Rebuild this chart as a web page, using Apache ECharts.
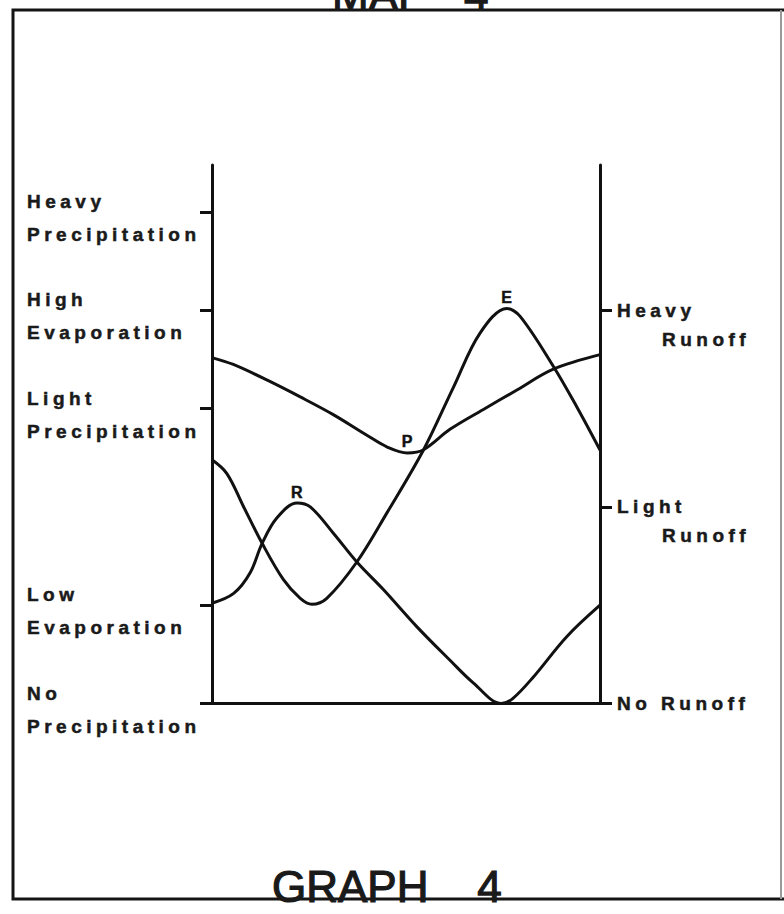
<!DOCTYPE html>
<html>
<head>
<meta charset="utf-8">
<title>Graph 4</title>
<script src="https://cdn.jsdelivr.net/npm/echarts@6/dist/echarts.min.js"></script>
<style>
html, body { margin: 0; padding: 0; background: #fff; }
#container { width: 784px; height: 914px; }
/* the lettering on the original is spaced out and heavy */
#container text[style*="bold"] { letter-spacing: 4.5px; stroke: #1a1a1a; stroke-width: 0.5px; }
</style>
</head>
<body>
<div id="container"></div>
<script>
// x runs across the graph, 0 = left axis, 12 = right axis
var precipX = [0, 0.66, 1.71, 2.73, 3.75, 4.79, 5.42, 6.04, 6.53, 7.36, 8.38, 9.43, 10.54, 12];
var precipY = [3.52, 3.45, 3.29, 3.12, 2.94, 2.73, 2.61, 2.55, 2.58, 2.79, 2.99, 3.19, 3.40, 3.55];

var evapX = [0, 0.46, 0.98, 1.55, 2.21, 2.73, 3.09, 3.55, 4.48, 5.41, 6.54, 7.47, 8.29, 9.12, 9.53, 10.56, 11.28, 12];
var evapY = [2.48, 2.34, 2.00, 1.63, 1.26, 1.07, 1.01, 1.07, 1.44, 1.94, 2.58, 3.22, 3.77, 4.02, 3.94, 3.43, 3.02, 2.58];

var runoffX = [0, 0.67, 1.18, 1.55, 2.01, 2.63, 3.04, 3.76, 4.48, 5.30, 6.34, 7.36, 8.08, 8.95, 9.30, 9.94, 10.97, 12];
var runoffY = [1.02, 1.12, 1.33, 1.63, 1.89, 2.04, 2.00, 1.73, 1.44, 1.16, 0.78, 0.44, 0.21, 0.00, 0.05, 0.27, 0.68, 1.00];

// point of each curve that carries its letter
var precipMark = 7;   // P at the low point
var evapMark = 13;    // E at the peak
var runoffMark = 5;   // R at the peak

// tick labels
var leftTicks = [0, 1, 3, 4, 5];
var leftLabels = ['No\nPrecipitation', 'Low\nEvaporation', 'Light\nPrecipitation', 'High\nEvaporation', 'Heavy\nPrecipitation'];
var rightTicks = [0, 2, 4];
var rightLabels = ['No Runoff', 'Light\nRunoff', 'Heavy\nRunoff'];

var xMax = 12;
var yMax = 5.48;

var page = {
    init: function () {
        this.chart = echarts.init(document.getElementById('container'), null, { renderer: 'svg' });
        this.generateCharts();
    },
    //数据点 + 字母
    toPairs: function (xs, ys, markIdx, letter) {
        var out = [];
        for (var i = 0; i < xs.length; i++) {
            var item = { value: [xs[i], ys[i]] };
            if (i === markIdx) {
                item.label = { show: true, formatter: letter };
            }
            out.push(item);
        }
        return out;
    },
    curve: function (name, data) {
        return {
            name: name,
            type: 'line',
            data: data,
            smooth: 0.35,
            showSymbol: true,
            symbol: 'circle',
            symbolSize: 0,
            silent: true,
            lineStyle: { color: '#111', width: 3 },
            itemStyle: { color: '#111' },
            label: {
                show: false,
                position: 'top',
                distance: 3,
                offset: [2, 0],
                fontSize: 16,
                fontWeight: 'bold',
                fontFamily: 'Liberation Sans',
                color: '#111'
            }
        };
    },
    generateCharts: function () {
        var axisLine = { show: true, lineStyle: { color: '#111', width: 3 } };
        var labelFont = { fontSize: 19, fontWeight: 'bold', fontFamily: 'Liberation Sans', color: '#1a1a1a' };

        var option = {
            animation: false,
            backgroundColor: '#fff',
            grid: { left: 212, right: 184, top: 165, bottom: 210.5, outerBoundsMode: 'none', containLabel: false },
            xAxis: {
                type: 'value', min: 0, max: xMax,
                axisLine: axisLine,
                axisTick: { show: false },
                axisLabel: { show: false },
                splitLine: { show: false }
            },
            yAxis: [
                {
                    type: 'value', position: 'left', min: 0, max: yMax,
                    axisLine: axisLine,
                    axisTick: { show: true, customValues: leftTicks, length: 12, lineStyle: { color: '#111', width: 3 } },
                    axisLabel: Object.assign({
                        customValues: leftTicks,
                        align: 'left',
                        margin: 185,
                        padding: [12, 0, 0, 0],
                        formatter: function (v) {
                            var t = leftLabels[leftTicks.indexOf(v)].split('\n');
                            return '{a|' + t[0] + '}\n{a|' + t[1] + '}';
                        },
                        rich: {
                            a: Object.assign({ lineHeight: 33 }, labelFont)
                        }
                    }, labelFont),
                    splitLine: { show: false }
                },
                {
                    type: 'value', position: 'right', min: 0, max: yMax,
                    axisLine: axisLine,
                    axisTick: { show: true, customValues: rightTicks, length: 12, lineStyle: { color: '#111', width: 3 } },
                    axisLabel: Object.assign({
                        customValues: rightTicks,
                        align: 'left',
                        margin: 17,
                        padding: [29, 0, 0, 0],
                        formatter: function (v) {
                            var t = rightLabels[rightTicks.indexOf(v)].split('\n');
                            return '{a|' + t[0] + '}\n{b|' + (t[1] || ' ') + '}';
                        },
                        rich: {
                            a: Object.assign({ lineHeight: 29 }, labelFont),
                            b: Object.assign({ lineHeight: 29, padding: [0, 0, 0, 45] }, labelFont)
                        }
                    }, labelFont),
                    splitLine: { show: false }
                }
            ],
            graphic: [
                // page frame
                {
                    type: 'polyline', silent: true,
                    shape: { points: [[784, 10], [13, 10], [13, 899], [784, 899]] },
                    style: { stroke: '#151515', lineWidth: 3, fill: null }
                },
                {
                    type: 'line', silent: true,
                    shape: { x1: 781, y1: 10, x2: 781, y2: 899 },
                    style: { stroke: '#999', lineWidth: 2 }
                },
                {
                    type: 'text', silent: true,
                    style: { text: 'MAP\u00a0\u00a0\u00a04', x: 332, y: -6, font: '44px "Liberation Sans"', fill: '#1a1a1a', stroke: '#1a1a1a', lineWidth: 1.2, verticalAlign: 'middle' }
                },
                {
                    type: 'text', silent: true,
                    style: { text: 'GRAPH\u00a0\u00a0\u00a0\u00a04', x: 272, y: 886, font: '44px "Liberation Sans"', fill: '#1a1a1a', stroke: '#1a1a1a', lineWidth: 1.2, verticalAlign: 'middle' }
                }
            ],
            series: [
                this.curve('P', this.toPairs(precipX, precipY, precipMark, 'P')),
                this.curve('E', this.toPairs(evapX, evapY, evapMark, 'E')),
                this.curve('R', this.toPairs(runoffX, runoffY, runoffMark, 'R'))
            ]
        };

        this.chart.setOption(option);
    }
};

page.init();
</script>
</body>
</html>
